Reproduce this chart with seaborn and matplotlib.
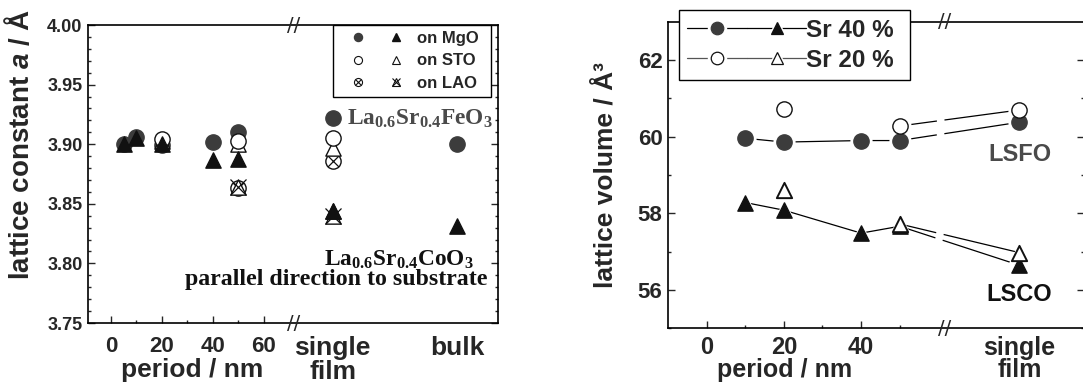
import matplotlib
matplotlib.use("Agg")
import matplotlib.pyplot as plt
import matplotlib.transforms as mtransforms
import pandas as pd
import seaborn as sns
from matplotlib.lines import Line2D
from matplotlib.legend_handler import HandlerTuple
from matplotlib.ticker import FixedLocator

# ---------------- data ----------------
# left panel: lattice constant a (Å), parallel direction
period_mgo = [5, 10, 20, 40, 50, "single film", "bulk"]
lsfo_mgo = [3.900, 3.906, 3.899, 3.902, 3.910, 3.922, 3.900]
lsco_mgo = [3.900, 3.905, 3.900, 3.887, 3.888, 3.844, 3.831]
period_sto = [20, 50, "single film"]
lsfo_sto = [3.904, 3.903, 3.905]
lsco_sto = [3.903, 3.900, 3.897]
period_lao = [50, "single film"]
lsfo_lao = [3.863, 3.886]
lsco_lao = [3.864, 3.840]
left_xticks = [0, 20, 40, 60, "single film", "bulk"]
left_xticklabels = ["0", "20", "40", "60", "single\nfilm", "bulk"]
left_yticks = [3.75, 3.80, 3.85, 3.90, 3.95, 4.00]

# right panel: lattice volume (Å^3)
period_sr40 = [10, 20, 40, 50, "single film"]
lsfo_sr40 = [59.96, 59.86, 59.90, 59.90, 60.38]
lsco_sr40 = [58.28, 58.08, 57.48, 57.66, 56.64]
period_sr20 = [20, 50, "single film"]
lsfo_sr20 = [60.73, 60.28, 60.70]
lsco_sr20 = [58.62, 57.72, 56.97]
right_xticks = [0, 20, 40, "single film"]
right_xticklabels = ["0", "20", "40", "single\nfilm"]
right_yticks = [56, 58, 60, 62]

# ---------------- layout of the broken axes ----------------
LEFT_POS = {"single film": 87, "bulk": 136}
LEFT_BREAK = 71.8
RIGHT_POS = {"single film": 81}
RIGHT_BREAK = 61.5


def xpos(vals, mapping):
    return [mapping.get(v, v) if isinstance(v, str) else v for v in vals]


sns.set_style("ticks")
plt.rcParams["font.family"] = ["Liberation Sans", "DejaVu Sans"]
plt.rcParams["font.weight"] = "bold"
plt.rcParams["mathtext.fontset"] = "custom"
plt.rcParams["mathtext.rm"] = "Liberation Serif:bold"
plt.rcParams["mathtext.bf"] = "Liberation Serif:bold"
plt.rcParams["mathtext.it"] = "Liberation Sans:italic:bold"
plt.rcParams["lines.scale_dashes"] = False

GRAY = "#3c3c3c"
BLACK = "#111111"
MS = 11  # marker size (pt)
S = MS ** 2

fig = plt.figure(figsize=(10.83, 3.85), dpi=100)
ax1 = fig.add_axes([0.0813, 0.161, 0.3786, 0.774])
ax2 = fig.add_axes([0.6168, 0.148, 0.3841, 0.795])


def scat(ax, x, y, marker, face, edge, lw=1.0, z=3, s=S):
    df = pd.DataFrame({"x": x, "y": y})
    sns.scatterplot(data=df, x="x", y="y", ax=ax, marker=marker, s=s,
                    color=face, edgecolor=edge, linewidth=lw, zorder=z,
                    legend=False, clip_on=False)


# ---------------- left panel ----------------
xm = xpos(period_mgo, LEFT_POS)
xs = xpos(period_sto, LEFT_POS)
xl = xpos(period_lao, LEFT_POS)

scat(ax1, xm, lsfo_mgo, "o", GRAY, GRAY, z=3)
scat(ax1, xm, lsco_mgo, "^", BLACK, BLACK, z=4)
scat(ax1, xl, lsfo_lao, "o", "white", BLACK, z=3)
df = pd.DataFrame({"x": xl, "y": lsfo_lao})
sns.scatterplot(data=df, x="x", y="y", ax=ax1, marker="x", s=S * 0.55,
                color=BLACK, linewidth=0.9, zorder=3.1, legend=False)
scat(ax1, xl, lsco_lao, "^", "white", BLACK, z=3.2)
df = pd.DataFrame({"x": xl, "y": lsco_lao})
sns.scatterplot(data=df, x="x", y="y", ax=ax1, marker="x", s=S * 1.1,
                color=BLACK, linewidth=0.9, zorder=3.3, legend=False)
scat(ax1, xs, lsco_sto, "^", "white", BLACK, z=3.5)
scat(ax1, xs, lsfo_sto, "o", "white", BLACK, z=3.6)
scat(ax1, xm[5:6], lsco_mgo[5:6], "^", BLACK, BLACK, z=4)

ax1.set_xlim(-9, 152)
ax1.set_ylim(3.75, 4.00)
ax1.set_xticks(xpos(left_xticks, LEFT_POS))
ax1.set_xticklabels(left_xticklabels)
ax1.xaxis.set_minor_locator(FixedLocator([10, 30, 50]))
ax1.set_yticks(left_yticks)
ax1.set_yticklabels([f"{v:.2f}" for v in left_yticks])
ax1.yaxis.set_minor_locator(FixedLocator([3.75 + 0.01 * i for i in range(26)]))
ax1.tick_params(axis="both", which="both", direction="in", width=1.0)
ax1.tick_params(axis="both", which="major", length=5)
ax1.tick_params(axis="both", which="minor", length=2.5)
ax1.tick_params(axis="y", which="both", left=True, right=True, labelsize=13, pad=4)
ax1.tick_params(axis="x", which="both", top=False, labelsize=16, pad=9)
for t in ax1.xaxis.get_major_ticks()[4:]:
    t.tick1line.set_visible(False)
for lbl in ax1.get_xticklabels()[4:]:
    lbl.set_fontsize(19)
    lbl.set_linespacing(1.05)
for sp in ax1.spines.values():
    sp.set_linewidth(1.2)
    sp.set_color("black")

ax1.set_ylabel(r"lattice constant $\mathit{a}$ / Å", fontsize=20, fontweight="bold",
               va="center", ha="center")
ax1.yaxis.set_label_coords(-0.166, 0.60)
ax1.set_xlabel("period / nm", fontsize=19, fontweight="bold", va="center", ha="center")
ax1.xaxis.set_label_coords(0.254, -0.158)

ax1.text(92.5, 3.917, r"La$_{0.6}$Sr$_{0.4}$FeO$_3$", fontsize=16.8, color="#4a4a4a",
         family="Liberation Serif", fontweight="bold", ha="left", va="baseline")
ax1.text(113, 3.7986, r"La$_{0.6}$Sr$_{0.4}$CoO$_3$", fontsize=16.8, color=BLACK,
         family="Liberation Serif", fontweight="bold", ha="center", va="baseline")
ax1.text(88.5, 3.782, "parallel direction to substrate", fontsize=17.2,
         family="Liberation Serif", fontweight="bold", color=BLACK,
         ha="center", va="baseline")

trans1 = mtransforms.blended_transform_factory(ax1.transData, ax1.transAxes)
for yy in (0, 1):
    ax1.text(LEFT_BREAK, yy, "//", transform=trans1, fontsize=14, family="DejaVu Sans",
             fontweight="normal", ha="center", va="center", clip_on=False, zorder=6)

# left legend
h_mc = Line2D([], [], ls="none", marker="o", ms=5.8, mfc=GRAY, mec=GRAY)
h_mt = Line2D([], [], ls="none", marker="^", ms=6.3, mfc=BLACK, mec=BLACK)
h_sc = Line2D([], [], ls="none", marker="o", ms=5.8, mfc="white", mec=BLACK, mew=0.8)
h_st = Line2D([], [], ls="none", marker="^", ms=6.3, mfc="white", mec=BLACK, mew=0.8)
h_lc = Line2D([], [], ls="none", marker="o", ms=5.8, mfc="white", mec=BLACK, mew=0.8)
h_lcx = Line2D([], [], ls="none", marker="x", ms=4.0, mec=BLACK, mew=0.8)
h_lt = Line2D([], [], ls="none", marker="^", ms=6.3, mfc="white", mec=BLACK, mew=0.8)
h_ltx = Line2D([], [], ls="none", marker="x", ms=6.3, mec=BLACK, mew=0.8)
t1 = (h_mc, h_mt)
t2 = (h_sc, h_st)
t3 = ((h_lc, h_lcx), (h_lt, h_ltx))
hm = {t1: HandlerTuple(ndivide=None, pad=0), t2: HandlerTuple(ndivide=None, pad=0),
      t3: HandlerTuple(ndivide=None, pad=0)}
leg1 = ax1.legend([t1, t2, t3], ["on MgO", "on STO", "on LAO"], handler_map=hm,
                  loc="upper left", bbox_to_anchor=(0.598, 0.5, 0.385, 0.5),
                  mode="expand", borderaxespad=0,
                  prop={"size": 12, "weight": "bold"}, handlelength=4.55,
                  handletextpad=0.15, labelspacing=0.45, borderpad=0.35,
                  frameon=True, fancybox=False, framealpha=1, edgecolor="black")
leg1.get_frame().set_linewidth(1.0)

# ---------------- right panel ----------------
xr40 = xpos(period_sr40, RIGHT_POS)
xr20 = xpos(period_sr20, RIGHT_POS)


def line(ax, x, y, ls, color="black"):
    df = pd.DataFrame({"x": x, "y": y})
    sns.lineplot(data=df, x="x", y="y", ax=ax, color=color, linewidth=0.9,
                 linestyle=ls, sort=False, estimator=None, zorder=1, legend=False)


BROKEN = (0, (27, 5.5, 200, 1))
line(ax2, xr40[:4], lsfo_sr40[:4], "-")
line(ax2, xr40[3:], lsfo_sr40[3:], BROKEN)
line(ax2, xr40[:4], lsco_sr40[:4], "-")
line(ax2, xr40[3:], lsco_sr40[3:], BROKEN)
line(ax2, xr20[1:], lsfo_sr20[1:], BROKEN)
line(ax2, xr20[1:], lsco_sr20[1:], BROKEN)

# white halos so the lines stop short of the markers
for xx, yy, m in [(xr40, lsfo_sr40, "o"), (xr40, lsco_sr40, "^"),
                  (xr20, lsfo_sr20, "o"), (xr20, lsco_sr20, "^")]:
    scat(ax2, xx, yy, m, "white", "white", lw=0, z=1.5, s=(MS + 5) ** 2)

scat(ax2, xr40, lsfo_sr40, "o", GRAY, GRAY, z=3)
scat(ax2, xr40, lsco_sr40, "^", BLACK, BLACK, z=3)
scat(ax2, xr20, lsfo_sr20, "o", "white", BLACK, lw=1.0, z=3.5)
scat(ax2, xr20, lsco_sr20, "^", "white", BLACK, lw=1.4, z=3.5)

ax2.set_xlim(-10, 97.7)
ax2.set_ylim(55, 63)
ax2.set_xticks(xpos(right_xticks, RIGHT_POS))
ax2.set_xticklabels(right_xticklabels)
ax2.xaxis.set_minor_locator(FixedLocator([10, 30, 50]))
ax2.set_yticks(right_yticks)
ax2.yaxis.set_minor_locator(FixedLocator([55, 57, 59, 61]))
ax2.tick_params(axis="both", which="both", direction="in", width=1.0)
ax2.tick_params(axis="both", which="major", length=5)
ax2.tick_params(axis="both", which="minor", length=2.5)
ax2.tick_params(axis="y", which="both", left=True, right=True, labelsize=16, pad=4)
ax2.tick_params(axis="x", which="both", top=False, labelsize=17, pad=6)
for t in ax2.xaxis.get_major_ticks()[3:]:
    t.tick1line.set_visible(False)
for lbl in ax2.get_xticklabels()[3:]:
    lbl.set_fontsize(18)
    lbl.set_linespacing(0.85)
for sp in ax2.spines.values():
    sp.set_linewidth(1.2)
    sp.set_color("black")

ax2.set_ylabel("lattice volume / Å³", fontsize=19, fontweight="bold",
               va="center", ha="center")
ax2.yaxis.set_label_coords(-0.151, 0.5)
ax2.set_xlabel("period / nm", fontsize=18, fontweight="bold", va="center", ha="center")
ax2.xaxis.set_label_coords(0.281, -0.137)

ax2.text(81, 59.53, "LSFO", fontsize=17, fontweight="bold", color="#4a4a4a",
         ha="center", va="center")
ax2.text(81, 55.87, "LSCO", fontsize=17, fontweight="bold", color=BLACK,
         ha="center", va="center")

trans2 = mtransforms.blended_transform_factory(ax2.transData, ax2.transAxes)
for yy in (0, 1):
    ax2.text(RIGHT_BREAK, yy, "//", transform=trans2, fontsize=14, family="DejaVu Sans",
             fontweight="normal", ha="center", va="center", clip_on=False, zorder=6)


def leg_entry(lc, marker, face, edge):
    ln = Line2D([], [], color=lc, lw=0.9)
    halo = Line2D([], [], ls="none", marker=marker, ms=13, mfc="white", mec="white")
    mk = Line2D([], [], ls="none", marker=marker, ms=9, mfc=face, mec=edge, mew=0.9)
    return (ln, halo, mk)


r40 = (leg_entry("black", "o", GRAY, GRAY), leg_entry("black", "^", BLACK, BLACK))
r20 = (leg_entry("#555555", "o", "white", BLACK), leg_entry("#555555", "^", "white", BLACK))
leg2 = ax2.legend([r40, r20], ["Sr 40 %", "Sr 20 %"],
                  handler_map={r40: HandlerTuple(ndivide=None, pad=0),
                               r20: HandlerTuple(ndivide=None, pad=0)},
                  numpoints=1, loc="upper left",
                  bbox_to_anchor=(0.026, 0.5, 0.556, 0.539), mode="expand",
                  borderaxespad=0, prop={"size": 17.5, "weight": "bold"},
                  handlelength=4.9, handletextpad=0.0, labelspacing=0.3,
                  borderpad=0.35, frameon=True, fancybox=False, framealpha=1,
                  edgecolor="black")
leg2.get_frame().set_linewidth(1.0)
leg2.set_zorder(10)

fig.savefig("out.png", dpi=100)
